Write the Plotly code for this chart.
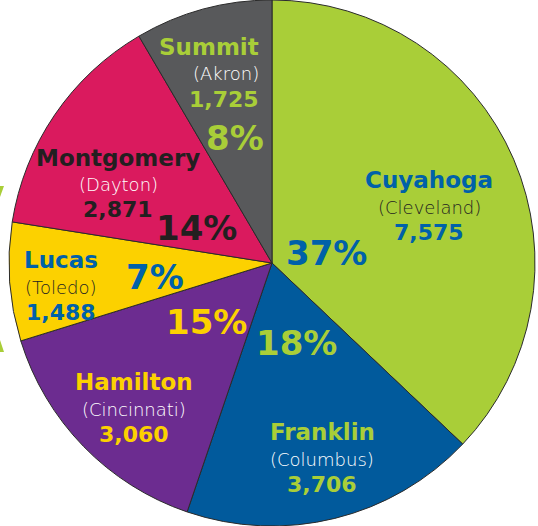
import plotly.graph_objects as go

counties = ["Cuyahoga", "Franklin", "Hamilton", "Lucas", "Montgomery", "Summit"]
cities = ["Cleveland", "Columbus", "Cincinnati", "Toledo", "Dayton", "Akron"]
values = [7575, 3706, 3060, 1488, 2871, 1725]
pct_labels = ["37%", "18%", "15%", "7%", "14%", "8%"]
slice_colors = ["#A9CE38", "#015A9C", "#6C2C90", "#FCD100", "#DA1A5E", "#58595B"]

# text colours per slice: name/value, city, percent
name_colors = ["#0061A9", "#A9CE38", "#FCD100", "#0061A9", "#231F20", "#A9CE38"]
city_colors = ["#231F20", "#FFFFFF", "#FFFFFF", "#231F20", "#FFFFFF", "#FFFFFF"]
pct_colors = ["#0061A9", "#A9CE38", "#FCD100", "#0061A9", "#231F20", "#A9CE38"]

W, H = 538, 526
# label anchor positions in pixels (block x, name y, x-anchor) and percent position
block_pos = [(429, 180, "center"), (322, 432, "center"), (134, 382, "center"),
             (61, 260, "center"), (118, 158, "center"), (261, 47, "right")]
pct_pos = [(326, 253), (297, 343), (206, 322), (155, 277), (196, 228), (235, 138)]

BOLD = "DejaVu Sans"
LIGHT = "DejaVu Sans"

fig = go.Figure(go.Pie(
    labels=counties,
    values=values,
    sort=False,
    direction="clockwise",
    rotation=0,
    marker=dict(colors=slice_colors, line=dict(color="#2b2b2b", width=1)),
    textinfo="none",
    hoverinfo="label+value+percent",
    showlegend=False,
    domain=dict(x=[9 / W, 535 / W], y=[0, 1]),
))

annotations = []
for i, c in enumerate(counties):
    bx, by, anc = block_pos[i]
    annotations.append(dict(x=bx / W, y=1 - by / H, text=f"<b>{c}</b>", xanchor=anc,
                            font=dict(family=BOLD, size=23, color=name_colors[i])))
    annotations.append(dict(x=bx / W, y=1 - (by + 27) / H, text=f"({cities[i]})", xanchor=anc,
                            font=dict(family=LIGHT, size=18, weight=200, color=city_colors[i])))
    annotations.append(dict(x=bx / W, y=1 - (by + 52) / H, text=f"<b>{values[i]:,}</b>", xanchor=anc,
                            font=dict(family=BOLD, size=22, color=name_colors[i])))
    px, py = pct_pos[i]
    annotations.append(dict(x=px / W, y=1 - py / H, text=f"<b>{pct_labels[i]}</b>", xanchor="center",
                            font=dict(family=BOLD, size=34, color=pct_colors[i])))

for a in annotations:
    a.update(xref="paper", yref="paper", showarrow=False, yanchor="middle")

# small green fragments at the left edge of the picture
shapes = [
    dict(type="path", xref="paper", yref="paper",
         path=f"M 0 {1-186/H} L {4/W} {1-186/H} L 0 {1-197/H} Z",
         fillcolor="#A9CE38", line=dict(width=0)),
    dict(type="path", xref="paper", yref="paper",
         path=f"M 0 {1-340/H} L {4/W} {1-352/H} L 0 {1-352/H} Z",
         fillcolor="#A9CE38", line=dict(width=0)),
]

fig.update_layout(
    width=W, height=H,
    margin=dict(l=0, r=0, t=0, b=0),
    paper_bgcolor="white",
    plot_bgcolor="white",
    annotations=annotations,
    shapes=shapes,
)

fig.write_html("out.html")
